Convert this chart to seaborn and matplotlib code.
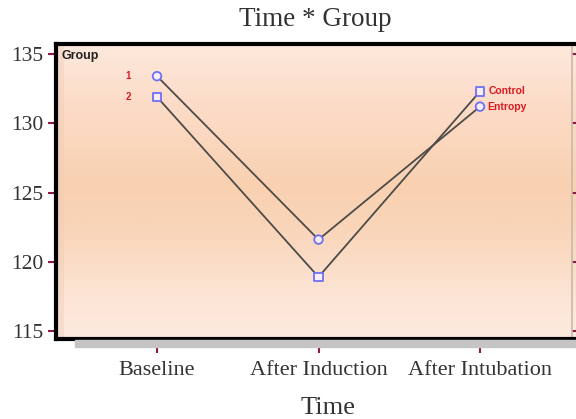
import numpy as np
import pandas as pd
import matplotlib
matplotlib.use("Agg")
import matplotlib.pyplot as plt
from matplotlib.colors import LinearSegmentedColormap
from matplotlib.patches import Rectangle
import seaborn as sns

# ---- data ----
times = ["Baseline", "After Induction", "After Intubation"]
control = [131.9, 118.9, 132.3]
entropy = [133.4, 121.6, 131.2]
groups = ["Control", "Entropy"]
y_ticks = [115, 120, 125, 130, 135]

df = pd.DataFrame({
    "Time": times * 2,
    "Value": control + entropy,
    "Group": ["Control"] * 3 + ["Entropy"] * 3,
})

sns.set_theme(style="white")
plt.rcParams["font.family"] = ["Liberation Serif", "DejaVu Serif"]

W, H = 576, 419
fig = plt.figure(figsize=(W / 100, H / 100), dpi=100)
# axes pixel box: left 56, right 600 (beyond edge), top 44, bottom 339
L, R, T, B = 56, 600, 44, 339
ax = fig.add_axes([L / W, 1 - B / H, (R - L) / W, (B - T) / H])

# gradient background
stops = [(0.0, "#fde9dc"), (0.2, "#fcdcc8"), (0.48, "#f9d1b1"),
         (0.62, "#f9d5b9"), (0.85, "#fce4d4"), (1.0, "#fdeadf")]
cmap = LinearSegmentedColormap.from_list("bg", stops)
grad = np.linspace(0, 1, 256).reshape(-1, 1)
ax.imshow(grad, cmap=cmap, aspect="auto", extent=[0, 1, 0, 1],
          transform=ax.transAxes, origin="upper", zorder=0)
# subtle darker band along left inner edge
ax.add_patch(Rectangle((0, 0), 8 / (R - L), 1, transform=ax.transAxes,
                       color="#e8c9b4", alpha=0.35, lw=0, zorder=0.5))

line_col = "#4d4b48"
mk_col = "#6f6ff5"
sns.lineplot(data=df, x="Time", y="Value", hue="Group", sort=False,
             palette={"Control": line_col, "Entropy": line_col},
             linewidth=1.3, legend=False, ax=ax, zorder=2)
sns.scatterplot(data=df, x="Time", y="Value", style="Group",
                markers={"Control": "s", "Entropy": "o"},
                s=38, facecolor="#f6eef6", edgecolor=mk_col, linewidth=1.3,
                legend=False, ax=ax, zorder=3)

xs = 161.5
ax.set_xlim(-(157 - L) / xs, 2 + (R - 480) / xs)
ys = 13.85
ax.set_ylim(115 - (B - 331) / ys, 135 + (54 - T) / ys)
ax.set_yticks(y_ticks)
ax.set_xticks(range(len(times)))
ax.set_xticklabels(times)

tick_col = "#8b1a48"
ax.tick_params(axis="y", direction="out", length=6, width=1.5, color=tick_col,
               labelsize=15.5, pad=3, labelcolor="#333333", left=True)
ax.tick_params(axis="x", direction="out", length=10, width=1.5, color=tick_col,
               labelsize=16, pad=6, labelcolor="#333333", bottom=True)
ax.set_xlabel("Time", fontsize=19, color="#333333", labelpad=12)
ax.set_ylabel("")
fig.text(0.5 * (236 + 394) / W, 1 - 20 / H, "Time * Group", ha="center",
         va="center", fontsize=19.5, color="#333333")

for side, sp in ax.spines.items():
    sp.set_color("black")
    sp.set_linewidth(3)
    sp.set_zorder(5)

# right inner axis with maroon ticks
sec = ax.secondary_yaxis((572 - L) / (R - L))
sec.set_yticks(y_ticks)
sec.tick_params(direction="out", length=5, width=1.5, color=tick_col,
                labelright=False)
sec.spines["right"].set_color("#c8b8ac")
sec.spines["right"].set_linewidth(1.2)

# drop shadow
fig.patches.append(Rectangle((75 / W, 1 - 347 / H), (W - 75) / W, 7 / H,
                             transform=fig.transFigure, color="#c4c4c4",
                             zorder=0))

red = "#dd1a22"
sansb = dict(family=["Liberation Sans", "DejaVu Sans"], fontweight="bold")
fig.text(62 / W, 1 - 56 / H, "Group", fontsize=9, color="#222222",
         ha="left", va="center", **sansb)
ax.text(-0.18, entropy[0], "1", fontsize=7, color=red, ha="center", va="center", **sansb)
ax.text(-0.18, control[0], "2", fontsize=7, color=red, ha="center", va="center", **sansb)
ax.text(2.055, control[2], groups[0], fontsize=7.5, color=red, ha="left", va="center", **sansb)
ax.text(2.045, entropy[2], groups[1], fontsize=7.5, color=red, ha="left", va="center", **sansb)

fig.savefig("out.png", dpi=100)
